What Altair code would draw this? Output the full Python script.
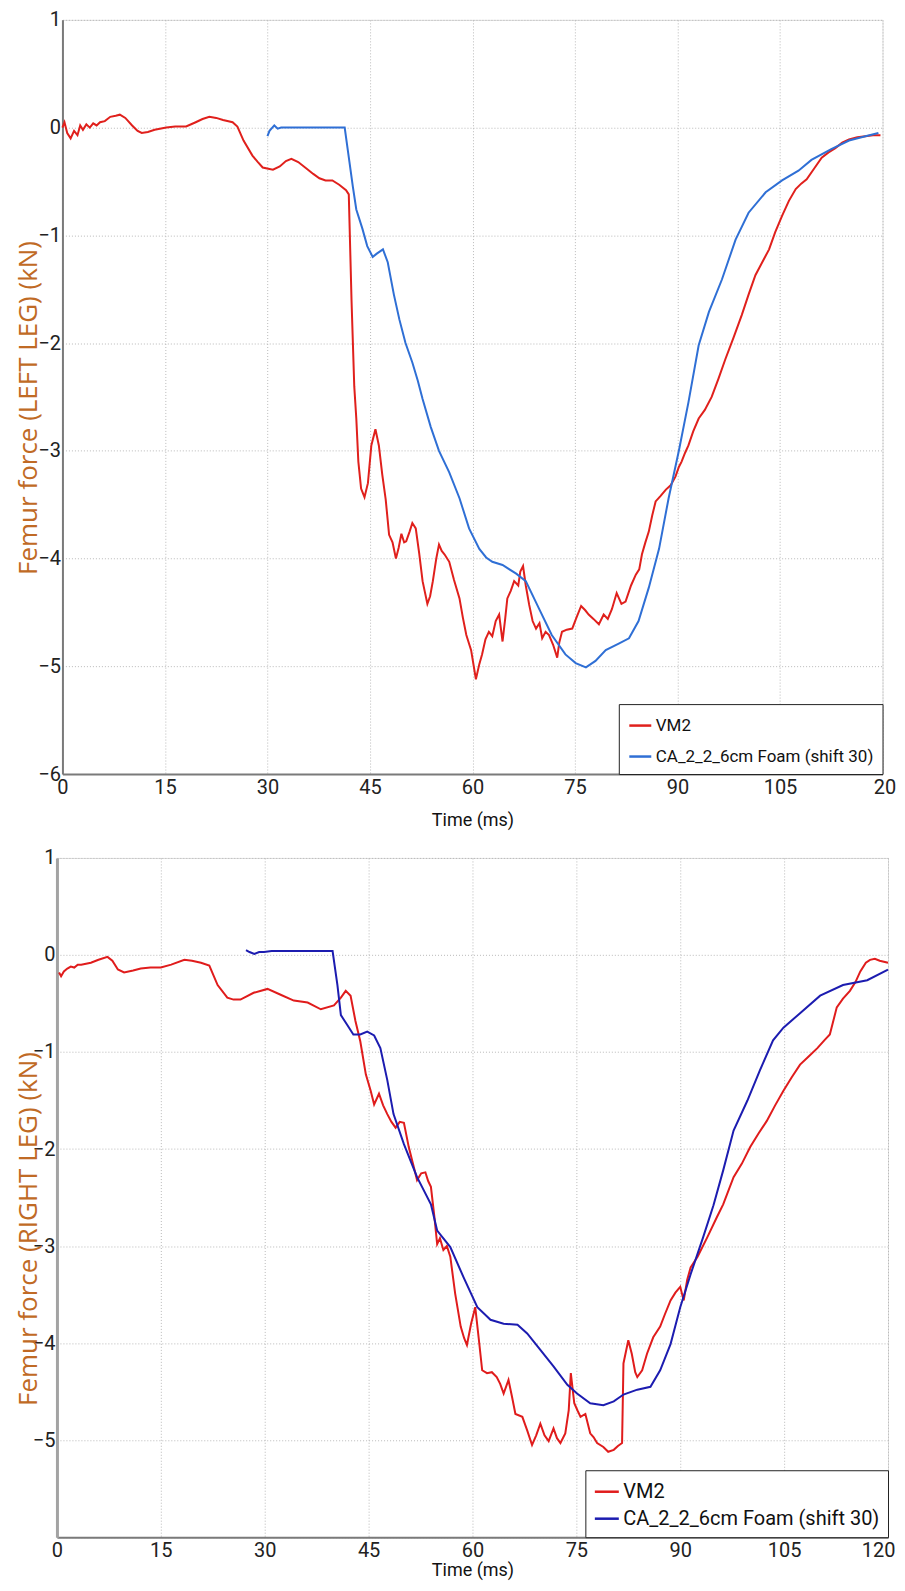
import altair as alt
import pandas as pd

# ---------------- data ----------------
series_names = ["VM2", "CA_2_2_6cm Foam (shift 30)"]

# Top panel (LEFT LEG)
top_vm2_t = [0, 0.3, 0.7, 1.2, 1.7, 2.2, 2.6, 3.0, 3.5, 4.0, 4.5, 5.0, 5.5, 6.2, 7.0, 7.8, 8.4, 9.2, 10.2, 11.0,
             11.6, 12.5, 13.5, 15.2, 16.5, 18.1, 19.5, 20.5, 21.5, 22.5, 23.5, 24.9, 25.6, 26.5, 27.8, 28.6, 29.3,
             30.8, 31.8, 32.7, 33.5, 34.5, 35.7, 36.7, 37.6, 38.5, 39.5, 40.5, 41.5, 41.9, 42.3, 42.7, 43.0, 43.3,
             43.7, 44.2, 44.7, 45.2, 45.8, 46.3, 46.8, 47.3, 47.8, 48.3, 48.8, 49.2, 49.6, 50.0, 50.3, 50.8, 51.2,
             51.7, 52.2, 52.7, 53.0, 53.4, 53.8, 54.2, 54.7, 55.1, 55.5, 55.9, 56.6, 57.3, 58.1, 58.6, 59.1, 59.8,
             60.5, 61.0, 61.4, 61.9, 62.4, 62.9, 63.4, 63.9, 64.4, 64.8, 65.1, 65.6, 66.1, 66.7, 67.0, 67.4, 67.8,
             68.3, 68.8, 69.3, 69.8, 70.2, 70.7, 71.2, 71.8, 72.4, 72.7, 73.1, 73.8, 74.6, 75.2, 75.9, 76.5, 77.0,
             77.7, 78.5, 79.2, 79.8, 80.4, 81.1, 81.8, 82.4, 83.2, 83.9, 84.4, 84.8, 85.3, 85.8, 86.3, 86.8, 87.5,
             88.3, 89.0, 89.7, 90.2, 90.6, 91.1, 91.6, 92.3, 93.1, 94.0, 95.0, 96.0, 97.0, 98.2, 99.4, 100.4, 101.4,
             102.4, 103.4, 104.3, 105.3, 106.3, 107.3, 108.1, 108.9, 110.0, 111.1, 112.1, 113.1, 114.1, 115.1,
             116.3, 117.5, 118.6, 119.7]
top_vm2_v = [0.0, 0.05, -0.05, -0.1, -0.03, -0.07, 0.02, -0.02, 0.03, 0.0, 0.04, 0.02, 0.05, 0.06, 0.1, 0.11, 0.12,
             0.09, 0.02, -0.03, -0.05, -0.04, -0.02, 0.0, 0.01, 0.01, 0.05, 0.08, 0.1, 0.09, 0.07, 0.05, 0.01, -0.12,
             -0.26, -0.32, -0.37, -0.39, -0.36, -0.31, -0.29, -0.32, -0.38, -0.43, -0.47, -0.49, -0.49, -0.53, -0.58,
             -0.62, -1.6, -2.4, -2.7, -3.1, -3.35, -3.43, -3.3, -2.95, -2.8, -2.95, -3.22, -3.45, -3.78, -3.85, -4.0,
             -3.9, -3.77, -3.85, -3.84, -3.75, -3.67, -3.72, -3.95, -4.21, -4.3, -4.42, -4.35, -4.21, -4.0, -3.87,
             -3.93, -3.96, -4.03, -4.2, -4.37, -4.55, -4.71, -4.85, -5.12, -4.98, -4.89, -4.75, -4.68, -4.72, -4.58,
             -4.52, -4.77, -4.55, -4.37, -4.3, -4.21, -4.25, -4.12, -4.07, -4.25, -4.43, -4.58, -4.65, -4.6, -4.74,
             -4.68, -4.71, -4.8, -4.92, -4.78, -4.68, -4.66, -4.65, -4.55, -4.44, -4.48, -4.52, -4.56, -4.61, -4.52,
             -4.56, -4.47, -4.32, -4.42, -4.4, -4.25, -4.15, -4.1, -3.96, -3.85, -3.75, -3.6, -3.47, -3.42, -3.36,
             -3.32, -3.24, -3.15, -3.1, -3.02, -2.95, -2.82, -2.7, -2.62, -2.5, -2.33, -2.15, -1.95, -1.74, -1.55,
             -1.37, -1.25, -1.13, -0.97, -0.82, -0.68, -0.57, -0.52, -0.48, -0.38, -0.28, -0.23, -0.19, -0.14, -0.11,
             -0.09, -0.08, -0.07, -0.07]

top_ca_t = [30.0, 30.3, 31.0, 31.5, 32.0, 32.7, 34.0, 36.0, 38.0, 40.0, 41.3, 42.0, 42.5, 43.0, 43.9, 44.6, 45.4,
            46.0, 46.9, 47.6, 48.5, 49.3, 50.2, 51.2, 52.0, 52.7, 53.9, 55.1, 56.6, 58.1, 59.5, 61.0, 62.0, 62.9,
            64.4, 66.4, 67.8, 69.7, 71.6, 73.6, 75.1, 76.6, 78.0, 79.5, 81.4, 82.9, 84.3, 85.8, 87.3, 88.7, 90.2,
            91.6, 93.1, 94.6, 96.5, 98.5, 100.4, 102.9, 105.3, 107.7, 109.6, 112.5, 115.1, 117.5, 119.4]
top_ca_v = [-0.08, -0.03, 0.02, -0.01, 0.0, 0.0, 0.0, 0.0, 0.0, 0.0, 0.0, -0.32, -0.55, -0.76, -0.94, -1.1, -1.2,
            -1.17, -1.13, -1.25, -1.55, -1.78, -2.0, -2.18, -2.35, -2.52, -2.78, -3.0, -3.2, -3.44, -3.72, -3.91,
            -3.99, -4.03, -4.06, -4.14, -4.21, -4.46, -4.71, -4.89, -4.97, -5.01, -4.95, -4.85, -4.79, -4.74, -4.58,
            -4.27, -3.91, -3.44, -3.0, -2.55, -2.02, -1.71, -1.41, -1.04, -0.79, -0.6, -0.49, -0.4, -0.3, -0.2,
            -0.12, -0.08, -0.05]

# Bottom panel (RIGHT LEG)
bot_vm2_t = [0.3, 0.6, 1.0, 1.5, 2.0, 2.5, 3.0, 3.5, 4.2, 4.9, 6.0, 7.3, 8.0, 8.8, 9.7, 11.0, 12.1, 13.5, 15.0, 16.5,
             18.4, 19.5, 20.8, 22.0, 23.2, 24.6, 25.5, 26.5, 28.4, 30.4, 32.3, 34.2, 36.2, 38.1, 40.0, 41.0, 41.7,
             42.4, 43.1, 43.8, 44.6, 45.3, 45.8, 46.5, 47.1, 47.7, 48.3, 48.9, 49.5, 50.1, 50.8, 51.4, 52.0, 52.6,
             53.2, 53.6, 54.0, 54.5, 54.9, 55.3, 55.8, 56.3, 56.8, 57.5, 58.3, 58.8, 59.2, 59.8, 60.4, 60.9, 61.4,
             62.1, 62.8, 63.5, 64.0, 64.5, 65.2, 65.7, 66.2, 67.2, 67.9, 68.6, 69.2, 69.8, 70.4, 71.0, 71.7, 72.2,
             72.7, 73.4, 73.9, 74.2, 74.7, 75.2, 75.6, 76.3, 77.0, 77.5, 78.0, 78.9, 79.6, 80.4, 81.0, 81.6, 81.8,
             82.5, 83.0, 83.5, 83.8, 84.5, 85.2, 86.1, 87.1, 87.8, 88.6, 89.3, 90.0, 90.5, 91.0, 91.5, 92.5, 93.9,
             95.3, 96.2, 97.7, 98.9, 100.1, 101.3, 102.5, 103.7, 104.9, 106.1, 107.3, 108.5, 109.8, 110.8, 111.6,
             112.6, 113.5, 114.5, 115.3, 116.0, 116.8, 117.4, 118.1, 118.8, 120.0]
bot_vm2_v = [-0.18, -0.22, -0.17, -0.14, -0.12, -0.13, -0.1, -0.1, -0.09, -0.08, -0.05, -0.02, -0.06, -0.15, -0.18,
             -0.16, -0.14, -0.13, -0.13, -0.1, -0.05, -0.06, -0.08, -0.11, -0.31, -0.44, -0.46, -0.46, -0.39, -0.35,
             -0.41, -0.47, -0.49, -0.56, -0.52, -0.44, -0.37, -0.42, -0.68, -0.89, -1.23, -1.4, -1.54, -1.43, -1.55,
             -1.64, -1.72, -1.78, -1.72, -1.73, -1.98, -2.15, -2.32, -2.25, -2.24, -2.33, -2.39, -2.7, -2.98, -2.92,
             -3.04, -3.0, -3.11, -3.49, -3.83, -3.95, -4.02, -3.8, -3.63, -3.95, -4.28, -4.31, -4.3, -4.35, -4.42,
             -4.52, -4.38, -4.55, -4.73, -4.76, -4.9, -5.05, -4.95, -4.83, -4.95, -5.01, -4.88, -4.98, -5.03, -4.93,
             -4.69, -4.31, -4.62, -4.7, -4.76, -4.73, -4.93, -4.97, -5.03, -5.07, -5.12, -5.1, -5.06, -5.03, -4.21,
             -3.97, -4.11, -4.3, -4.35, -4.28, -4.11, -3.94, -3.83, -3.7, -3.56, -3.48, -3.42, -3.56, -3.35, -3.22,
             -3.11, -2.91, -2.7, -2.57, -2.29, -2.15, -1.98, -1.84, -1.71, -1.55, -1.4, -1.26, -1.13, -1.05, -0.96,
             -0.88, -0.82, -0.54, -0.45, -0.37, -0.28, -0.17, -0.08, -0.05, -0.04, -0.06, -0.08]

bot_ca_t = [27.3, 27.8, 28.5, 29.2, 29.9, 31.0, 33.0, 35.0, 37.0, 39.8, 40.5, 41.0, 41.9, 42.8, 43.8, 44.8, 45.8,
            46.7, 47.7, 48.6, 50.1, 52.0, 54.0, 54.9, 56.8, 58.7, 60.7, 62.6, 64.5, 66.5, 67.9, 69.8, 71.7, 73.7,
            75.1, 77.0, 78.9, 80.4, 81.8, 83.8, 85.7, 87.1, 88.6, 90.0, 91.5, 93.3, 94.8, 96.2, 97.7, 99.7, 101.5,
            103.4, 104.9, 107.3, 110.2, 113.5, 117.0, 120.0]
bot_ca_v = [0.05, 0.03, 0.01, 0.03, 0.03, 0.04, 0.04, 0.04, 0.04, 0.04, -0.31, -0.62, -0.72, -0.82, -0.82, -0.79,
            -0.83, -0.96, -1.29, -1.64, -1.95, -2.29, -2.57, -2.84, -3.01, -3.32, -3.63, -3.76, -3.8, -3.81, -3.9,
            -4.07, -4.24, -4.43, -4.52, -4.62, -4.64, -4.6, -4.53, -4.48, -4.45, -4.28, -4.01, -3.63, -3.29, -2.91,
            -2.58, -2.22, -1.81, -1.5, -1.19, -0.88, -0.75, -0.6, -0.42, -0.31, -0.26, -0.15]

x_ticks = [0, 15, 30, 45, 60, 75, 90, 105, 120]
y_ticks = [1, 0, -1, -2, -3, -4, -5, -6]

LABEL_FONT = "Liberation Sans Narrow, Roboto, sans-serif"
TITLE_FONT = "Open Sans"


def make_df(vm_t, vm_v, ca_t, ca_v):
    a = pd.DataFrame({"t": vm_t, "v": vm_v, "series": series_names[0]})
    b = pd.DataFrame({"t": ca_t, "v": ca_v, "series": series_names[1]})
    return pd.concat([a, b], ignore_index=True)


def panel(df, ytitle, colors, width, height, x_label_expr, y_label_expr, title_x, title_y,
          x_title_pad, x_title_size, last_align, last_offset,
          legend_font, legend_sym, legend_pad, legend_row, left_dom_color, left_dom_width):
    grid = dict(grid=True, gridColor="#b9b9b9", gridDash=[1, 2], gridWidth=1)
    xaxis = alt.Axis(values=x_ticks, title="Time (ms)", labelExpr=x_label_expr, labelFlush=False,
                     labelAlign={"condition": {"test": "datum.value == 120", "value": last_align},
                                 "value": "center"},
                     labelOffset={"condition": {"test": "datum.value == 120", "value": last_offset},
                                  "value": 0},
                     ticks=False, tickSize=0, domainColor="#7a7a7a", domainWidth=2,
                     labelFont=LABEL_FONT, labelFontSize=20, labelColor="#222222", labelPadding=3,
                     titleFont=LABEL_FONT, titleFontSize=x_title_size, titleFontWeight="normal",
                     titleColor="#111111", titlePadding=x_title_pad, **grid)
    yaxis = alt.Axis(values=y_ticks, title=ytitle, labelExpr=y_label_expr, labelFlush=False,
                     ticks=False, tickSize=0, domainColor=left_dom_color, domainWidth=left_dom_width,
                     labelFont=LABEL_FONT, labelFontSize=20, labelColor="#222222", labelPadding=2,
                     titleFont=TITLE_FONT, titleFontSize=26, titleFontWeight="normal", titleColor="#c06a25",
                     titleX=title_x, titleY=title_y, **grid)
    legend = alt.Legend(orient="bottom-right", offset=0, title=None, strokeColor="#222222",
                        fillColor="white", padding=legend_pad, labelFont=LABEL_FONT,
                        labelFontSize=legend_font, labelColor="#111111", symbolType="stroke",
                        symbolStrokeWidth=2.5, symbolSize=legend_sym, rowPadding=legend_row,
                        labelLimit=500, labelOffset=3)
    return alt.Chart(df).mark_line(strokeWidth=2).encode(
        x=alt.X("t:Q", scale=alt.Scale(domain=[0, 120], nice=False, zero=False), axis=xaxis),
        y=alt.Y("v:Q", scale=alt.Scale(domain=[-6, 1], nice=False, zero=False), axis=yaxis),
        color=alt.Color("series:N", scale=alt.Scale(domain=series_names, range=colors),
                        sort=series_names, legend=legend),
    ).properties(width=width, height=height)


top_df = make_df(top_vm2_t, top_vm2_v, top_ca_t, top_ca_v)
bot_df = make_df(bot_vm2_t, bot_vm2_v, bot_ca_t, bot_ca_v)

top = panel(top_df, "Femur force (LEFT LEG) (kN)", ["#e0201c", "#2f6fd5"], 821, 755,
            "datum.value == 120 ? '20' : datum.label", "datum.label",
            -21, 388, 15, 18, "center", 2,
            17, 484, 9, 10, "#7a7a7a", 2)
bottom = panel(bot_df, "Femur force (RIGHT LEG) (kN)", ["#e01c1c", "#1c1cb0"], 832, 680,
               "datum.label", "datum.value == -6 ? '' : datum.label",
               -15, 371, 1, 18, "right", 7,
               20, 576, 8, 3, "#a3a3a3", 3)

chart = alt.vconcat(top, bottom, spacing=84, center=True, bounds="flush").resolve_scale(
    color="independent").resolve_legend(color="independent").properties(
    padding={"left": 7, "top": 0, "right": 0, "bottom": 0}
).configure_view(strokeWidth=0).configure(background="white")

chart.save("out.html", embed_options={"renderer": "svg", "actions": False})
